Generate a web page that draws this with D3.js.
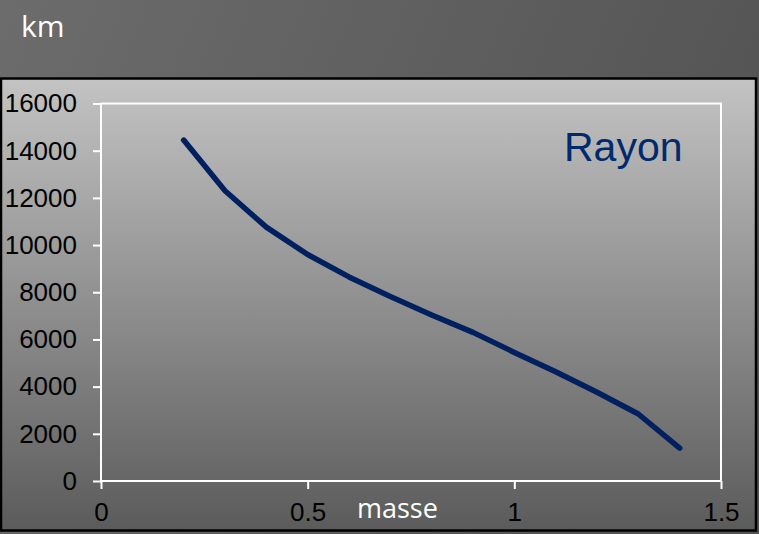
<!DOCTYPE html>
<html>
<head>
<meta charset="utf-8">
<script src="https://cdn.jsdelivr.net/npm/d3@7"></script>
<style>
  html, body { margin: 0; padding: 0; background: #5e5e5e; }
  svg { display: block; }
</style>
</head>
<body>
<script>
// ---- data ----
const masse = [0.2, 0.3, 0.4, 0.5, 0.6, 0.7, 0.8, 0.9, 1.0, 1.1, 1.2, 1.3, 1.4];
const rayon = [14450, 12300, 10760, 9600, 8650, 7820, 7040, 6300, 5450, 4630, 3760, 2840, 1390];
const xTicks = [0, 0.5, 1, 1.5];
const yTicks = [0, 2000, 4000, 6000, 8000, 10000, 12000, 14000, 16000];
const seriesName = "Rayon";
const yUnit = "km";
const xTitle = "masse";

const W = 759, H = 534;
const svg = d3.select("body").append("svg").attr("width", W).attr("height", H);
const defs = svg.append("defs");

const bgGrad = defs.append("linearGradient").attr("id", "bg")
  .attr("x1", "0").attr("y1", "0").attr("x2", "1").attr("y2", "0.3");
bgGrad.append("stop").attr("offset", "0").attr("stop-color", "#6c6c6c");
bgGrad.append("stop").attr("offset", "1").attr("stop-color", "#545454");

const boxGrad = defs.append("linearGradient").attr("id", "box")
  .attr("x1", "0").attr("y1", "0").attr("x2", "0").attr("y2", "1");
boxGrad.append("stop").attr("offset", "0").attr("stop-color", "#c3c3c3");
boxGrad.append("stop").attr("offset", "1").attr("stop-color", "#5b5b5b");

svg.append("rect").attr("width", W).attr("height", H).attr("fill", "url(#bg)");

// chart box
svg.append("rect").attr("x", 1).attr("y", 78.5).attr("width", 755).attr("height", 452)
  .attr("fill", "url(#box)").attr("stroke", "#000").attr("stroke-width", 2.5);

const x = d3.scaleLinear().domain([0, 1.5]).range([101, 721]);
const y = d3.scaleLinear().domain([0, 16000]).range([481, 103.5]);

// plot border (top, right)
svg.append("path")
  .attr("d", `M${x(0)},${y(16000)}H${x(1.5)}V${y(0)}`)
  .attr("fill", "none").attr("stroke", "#fff").attr("stroke-width", 2);

const font = "Liberation Sans, Arial, sans-serif";

// axes
const yAxis = svg.append("g").attr("transform", `translate(${x(0)},0)`)
  .call(d3.axisLeft(y).tickValues(yTicks).tickSize(8).tickPadding(16).tickFormat(d3.format("d")));
const xAxis = svg.append("g").attr("transform", `translate(0,${y(0)})`)
  .call(d3.axisBottom(x).tickValues(xTicks).tickSize(8).tickPadding(14).tickFormat(d => String(d)));

[yAxis, xAxis].forEach(g => {
  g.attr("font-size", 26).attr("font-family", font);
  g.select(".domain").attr("stroke", "#fff").attr("stroke-width", 2);
  g.selectAll(".tick line").attr("stroke", "#fff").attr("stroke-width", 2);
  g.selectAll(".tick text").attr("fill", "#000")
    .attr("font-size", 26).attr("font-family", font);
});
yAxis.select(".domain").attr("d", `M0,${y(0)}V${y(16000)}`);
xAxis.select(".domain").attr("d", `M${x(0)},0H${x(1.5)}`);

// line
const line = d3.line().x((d, i) => x(masse[i])).y(d => y(d));
svg.append("path").datum(rayon)
  .attr("d", line)
  .attr("fill", "none").attr("stroke", "#002060").attr("stroke-width", 5.5)
  .attr("stroke-linecap", "round").attr("stroke-linejoin", "round");

// series label
svg.append("text").attr("x", 564).attr("y", 161)
  .attr("fill", "#002a6e")
  .attr("font-family", font).attr("font-size", 41)
  .text(seriesName);

// unit and axis title
svg.append("text").attr("x", 21).attr("y", 37).attr("fill", "#fff")
  .attr("font-family", "Open Sans, sans-serif").attr("font-size", 30)
  .text(yUnit);
svg.append("text").attr("x", 357).attr("y", 518).attr("fill", "#fff")
  .attr("font-family", "Open Sans, sans-serif").attr("font-size", 27)
  .text(xTitle);
</script>
</body>
</html>
